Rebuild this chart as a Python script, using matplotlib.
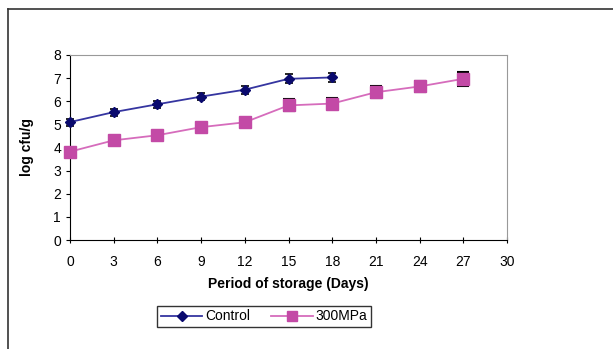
import numpy as np
import matplotlib
matplotlib.use('Agg')
from matplotlib import pyplot as plt
from matplotlib.lines import Line2D

plt.rcParams['font.family'] = ['Liberation Sans', 'DejaVu Sans']

# data
days_control = [0, 3, 6, 9, 12, 15, 18]
control = [5.1, 5.53, 5.87, 6.2, 6.5, 6.97, 7.03]
control_err = [0.15, 0.15, 0.15, 0.15, 0.17, 0.2, 0.2]

days_hp = [0, 3, 6, 9, 12, 15, 18, 21, 24, 27]
hp = [3.82, 4.31, 4.53, 4.88, 5.09, 5.82, 5.9, 6.39, 6.64, 6.97]
hp_err = [0.1, 0.1, 0.1, 0.1, 0.1, 0.26, 0.25, 0.27, 0.25, 0.3]

xticks = list(range(0, 31, 3))
yticks = list(range(0, 9))

c_line, c_mark = '#3535a0', '#0a0a6e'
p_line, p_mark = '#d66cbc', '#c34aa6'

fig = plt.figure(figsize=(6.13, 3.49), dpi=100)
ax = fig.add_axes([70/613, 1-240/349, (507-70)/613, (240-55)/349])

# outer chart border (cropped on the right and bottom)
fig.add_artist(Line2D([8/613, 8/613], [0, 1-9/349], transform=fig.transFigure, color='#333333', lw=1.2))
fig.add_artist(Line2D([8/613, 1], [1-9/349, 1-9/349], transform=fig.transFigure, color='#333333', lw=1.2))

for art in [
    ax.errorbar(days_control, control, yerr=control_err, color=c_line, lw=1.3,
                marker='D', markersize=5, markerfacecolor=c_mark, markeredgecolor=c_mark,
                ecolor='black', elinewidth=1.2, capsize=3, capthick=1.2, zorder=3),
    ax.errorbar(days_hp, hp, yerr=hp_err, color=p_line, lw=1.3,
                marker='s', markersize=8, markerfacecolor=p_mark, markeredgecolor=p_mark,
                ecolor='black', elinewidth=1.2, capsize=4, capthick=1.5, zorder=3)]:
    for child in art.get_children():
        child.set_clip_on(False)

ax.set_xlim(0, 30)
ax.set_ylim(0, 8)
ax.set_xticks(xticks)
ax.set_yticks(yticks)
ax.tick_params(axis='x', direction='inout', length=5, labelsize=10, pad=8)
ax.tick_params(axis='y', direction='out', length=3, labelsize=10)

for s in ['top', 'right']:
    ax.spines[s].set_color('#999999')
for s in ['left', 'bottom']:
    ax.spines[s].set_color('black')

ax.set_xlabel('Period of storage (Days)', fontsize=10, fontweight='bold', labelpad=6)
ax.set_ylabel('log cfu/g', fontsize=10, fontweight='bold', labelpad=14)

handles = [Line2D([], [], color=c_line, lw=1.3, marker='D', markersize=5, markerfacecolor=c_mark, markeredgecolor=c_mark),
           Line2D([], [], color=p_line, lw=1.3, marker='s', markersize=7, markerfacecolor=p_mark, markeredgecolor=p_mark)]
leg = fig.legend(handles, ['Control', '300MPa'], loc='upper center', bbox_to_anchor=(264/613, 1-306/349),
                 ncol=2, frameon=True, fancybox=False, fontsize=10, handlelength=3,
                 borderpad=0.25, columnspacing=1.5, handletextpad=0.2, borderaxespad=0)
leg.get_frame().set_edgecolor('black')
leg.get_frame().set_linewidth(1)

fig.savefig('out.png', dpi=100)
